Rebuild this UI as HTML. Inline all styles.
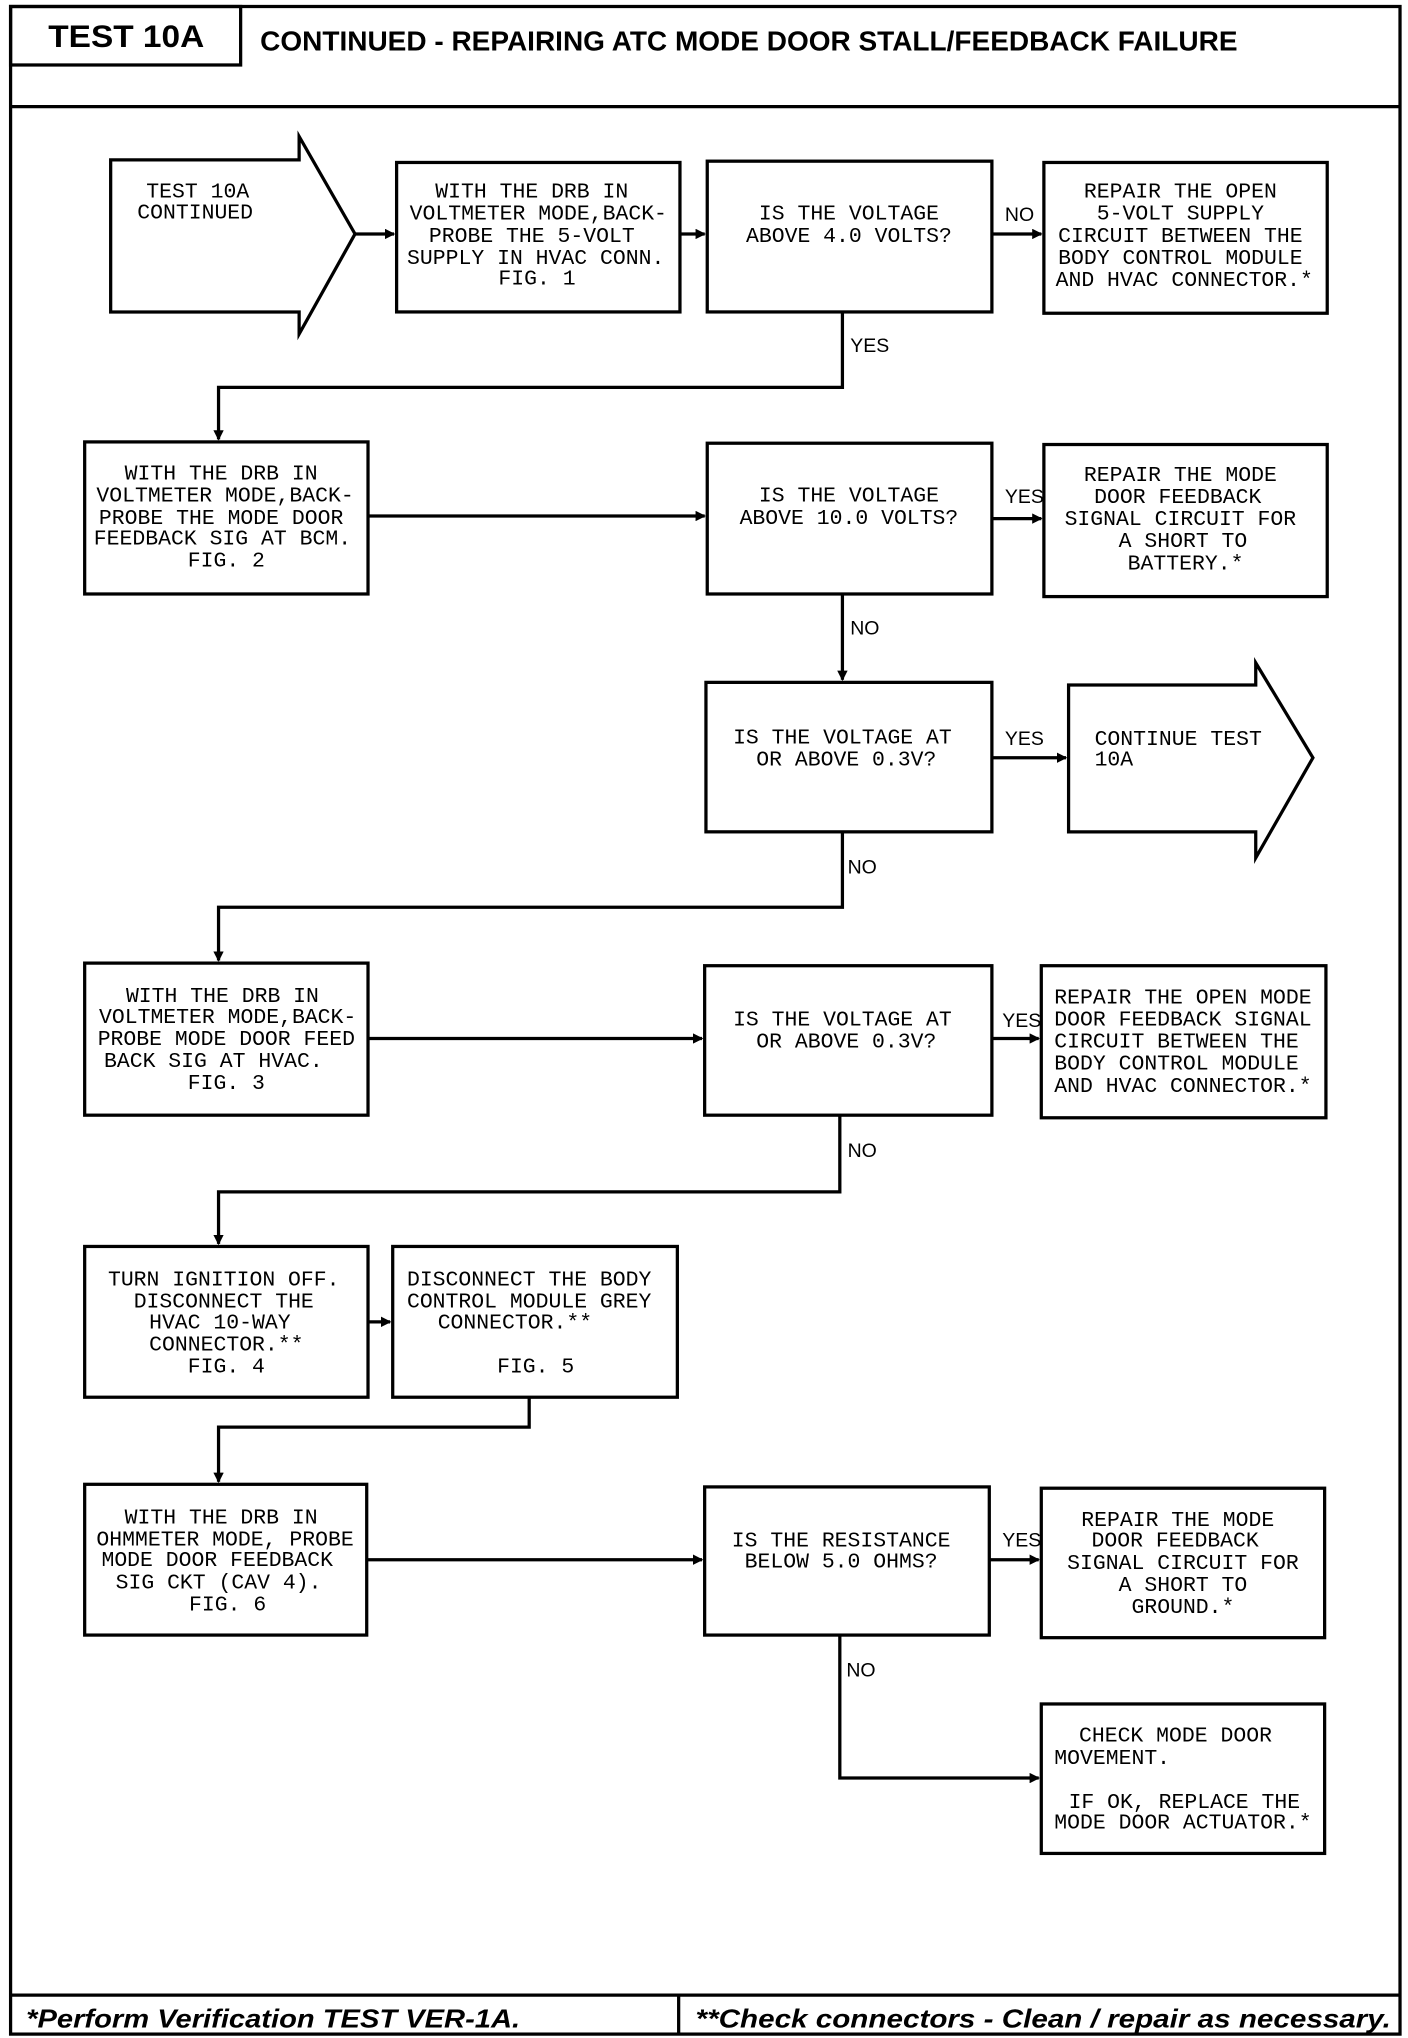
<!DOCTYPE html>
<html><head><meta charset="utf-8"><style>
html,body{margin:0;padding:0;background:#fff;}
svg{display:block;}
.t{font-family:"Liberation Mono",monospace;font-size:16.5px;fill:#000;}
.l{font-family:"Liberation Sans",sans-serif;font-size:15px;fill:#000;}
.h{font-family:"Liberation Sans",sans-serif;font-weight:bold;fill:#000;}
</style></head><body>
<svg width="1408" height="2038" viewBox="0 0 1083 1568" xmlns="http://www.w3.org/2000/svg">
<defs><marker id="a" markerWidth="8" markerHeight="8" refX="7" refY="4" orient="auto" markerUnits="userSpaceOnUse"><path d="M0,0 L8,4 L0,8 z" fill="#000"/></marker></defs>
<g fill="none" stroke="#000" stroke-width="2.5">
<rect x="8" y="5" width="1069" height="1560"/>
<rect x="8" y="5" width="177" height="45"/>
<line x1="8" y1="82" x2="1077" y2="82"/>
<line x1="8" y1="1535" x2="1077" y2="1535"/>
<line x1="522" y1="1535" x2="522" y2="1565"/>
<!-- row1 -->
<path d="M85,123 H230 V105 L273,180 L230,257 V240 H85 Z"/>
<rect x="305" y="125" width="218" height="115"/>
<rect x="544" y="124" width="219" height="116"/>
<rect x="803" y="125" width="218" height="116"/>
<line x1="273" y1="180" x2="303" y2="180" marker-end="url(#a)"/>
<line x1="523" y1="180" x2="542" y2="180" marker-end="url(#a)"/>
<line x1="763" y1="180" x2="801" y2="180" marker-end="url(#a)"/>
<polyline points="648,240 648,298 168,298 168,338" marker-end="url(#a)"/>
<!-- row2 -->
<rect x="65" y="340" width="218" height="117"/>
<rect x="544" y="341" width="219" height="116"/>
<rect x="803" y="342" width="218" height="117"/>
<line x1="283" y1="397" x2="542" y2="397" marker-end="url(#a)"/>
<line x1="763" y1="399" x2="801" y2="399" marker-end="url(#a)"/>
<line x1="648" y1="457" x2="648" y2="523" marker-end="url(#a)"/>
<!-- row3 -->
<rect x="543" y="525" width="220" height="115"/>
<path d="M822,527 H966 V510 L1010,583 L966,660 V640 H822 Z"/>
<line x1="763" y1="583" x2="820" y2="583" marker-end="url(#a)"/>
<polyline points="648,640 648,698 168,698 168,739" marker-end="url(#a)"/>
<!-- row4 -->
<rect x="65" y="741" width="218" height="117"/>
<rect x="542" y="743" width="221" height="115"/>
<rect x="801" y="743" width="219" height="117"/>
<line x1="283" y1="799" x2="540" y2="799" marker-end="url(#a)"/>
<line x1="763" y1="799" x2="799" y2="799" marker-end="url(#a)"/>
<polyline points="646,858 646,917 168,917 168,957" marker-end="url(#a)"/>
<!-- row5 -->
<rect x="65" y="959" width="218" height="116"/>
<rect x="302" y="959" width="219" height="116"/>
<line x1="283" y1="1017" x2="300" y2="1017" marker-end="url(#a)"/>
<polyline points="407,1075 407,1098 168,1098 168,1140" marker-end="url(#a)"/>
<!-- row6 -->
<rect x="65" y="1142" width="217" height="116"/>
<rect x="542" y="1144" width="219" height="114"/>
<rect x="801" y="1145" width="218" height="115"/>
<line x1="282" y1="1200" x2="540" y2="1200" marker-end="url(#a)"/>
<line x1="761" y1="1200" x2="799" y2="1200" marker-end="url(#a)"/>
<polyline points="646,1258 646,1368 799,1368" marker-end="url(#a)"/>
<rect x="801" y="1311" width="218" height="115"/>
</g>
<text class="h" x="37" y="36" font-size="24" textLength="120" lengthAdjust="spacingAndGlyphs">TEST 10A</text>
<text class="h" x="200" y="39" font-size="21" textLength="752" lengthAdjust="spacingAndGlyphs">CONTINUED - REPAIRING ATC MODE DOOR STALL/FEEDBACK FAILURE</text>
<text class="h" x="20" y="1560" font-size="20" font-style="italic" textLength="380" lengthAdjust="spacingAndGlyphs">*Perform Verification TEST VER-1A.</text>
<text class="h" x="535" y="1560" font-size="20" font-style="italic" textLength="535" lengthAdjust="spacingAndGlyphs">**Check connectors - Clean / repair as necessary.</text>
<g class="t" text-anchor="middle">
<text x="152" y="152">TEST 10A</text><text x="150" y="168">CONTINUED</text>
<text x="409" y="152">WITH THE DRB IN</text><text x="414" y="169">VOLTMETER MODE,BACK-</text><text x="409" y="186">PROBE THE 5-VOLT</text><text x="412" y="203">SUPPLY IN HVAC CONN.</text><text x="413" y="219">FIG. 1</text>
<text x="653" y="169">IS THE VOLTAGE</text><text x="653" y="186">ABOVE 4.0 VOLTS?</text>
<text x="908" y="152">REPAIR THE OPEN</text><text x="908" y="169">5-VOLT SUPPLY</text><text x="908" y="186">CIRCUIT BETWEEN THE</text><text x="908" y="203">BODY CONTROL MODULE</text><text x="911" y="220">AND HVAC CONNECTOR.*</text>
<text x="170" y="369">WITH THE DRB IN</text><text x="173" y="386">VOLTMETER MODE,BACK-</text><text x="170" y="403">PROBE THE MODE DOOR</text><text x="171" y="419">FEEDBACK SIG AT BCM.</text><text x="174" y="436">FIG. 2</text>
<text x="653" y="386">IS THE VOLTAGE</text><text x="653" y="403">ABOVE 10.0 VOLTS?</text>
<text x="908" y="370">REPAIR THE MODE</text><text x="906" y="387">DOOR FEEDBACK</text><text x="908" y="404">SIGNAL CIRCUIT FOR</text><text x="910" y="421">A SHORT TO</text><text x="912" y="438">BATTERY.*</text>
<text x="648" y="572">IS THE VOLTAGE AT</text><text x="651" y="589">OR ABOVE 0.3V?</text>
<text x="171" y="771">WITH THE DRB IN</text><text x="175" y="787">VOLTMETER MODE,BACK-</text><text x="174" y="804">PROBE MODE DOOR FEED</text><text x="164" y="821">BACK SIG AT HVAC.</text><text x="174" y="838">FIG. 3</text>
<text x="648" y="789">IS THE VOLTAGE AT</text><text x="651" y="806">OR ABOVE 0.3V?</text>
<text x="172" y="989">TURN IGNITION OFF.</text><text x="172" y="1006">DISCONNECT THE</text><text x="169" y="1022">HVAC 10-WAY</text><text x="174" y="1039">CONNECTOR.**</text><text x="174" y="1056">FIG. 4</text>
<text x="407" y="989">DISCONNECT THE BODY</text><text x="407" y="1006">CONTROL MODULE GREY</text><text x="396" y="1022">CONNECTOR.**</text><text x="412" y="1056">FIG. 5</text>
<text x="170" y="1172">WITH THE DRB IN</text><text x="173" y="1189">OHMMETER MODE, PROBE</text><text x="167" y="1205">MODE DOOR FEEDBACK</text><text x="168" y="1222">SIG CKT (CAV 4).</text><text x="175" y="1239">FIG. 6</text>
<text x="647" y="1190">IS THE RESISTANCE</text><text x="647" y="1206">BELOW 5.0 OHMS?</text>
<text x="906" y="1174">REPAIR THE MODE</text><text x="904" y="1190">DOOR FEEDBACK</text><text x="910" y="1207">SIGNAL CIRCUIT FOR</text><text x="910" y="1224">A SHORT TO</text><text x="910" y="1241">GROUND.*</text>
</g>
<g class="t">
<text x="842" y="573">CONTINUE TEST</text><text x="842" y="589">10A</text>
<text x="811" y="772">REPAIR THE OPEN MODE</text><text x="811" y="789">DOOR FEEDBACK SIGNAL</text><text x="811" y="806">CIRCUIT BETWEEN THE</text><text x="811" y="823">BODY CONTROL MODULE</text><text x="811" y="840">AND HVAC CONNECTOR.*</text>
<text x="830" y="1340">CHECK MODE DOOR</text><text x="811" y="1357">MOVEMENT.</text>
<text x="822" y="1391">IF OK, REPLACE THE</text><text x="811" y="1407">MODE DOOR ACTUATOR.*</text>
</g>
<g class="l">
<text x="773" y="170">NO</text><text x="654" y="271">YES</text>
<text x="773" y="387">YES</text><text x="654" y="488">NO</text>
<text x="773" y="573">YES</text><text x="652" y="672">NO</text>
<text x="771" y="790">YES</text><text x="652" y="890">NO</text>
<text x="771" y="1190">YES</text><text x="651" y="1290">NO</text>
</g>
</svg>
</body></html>
